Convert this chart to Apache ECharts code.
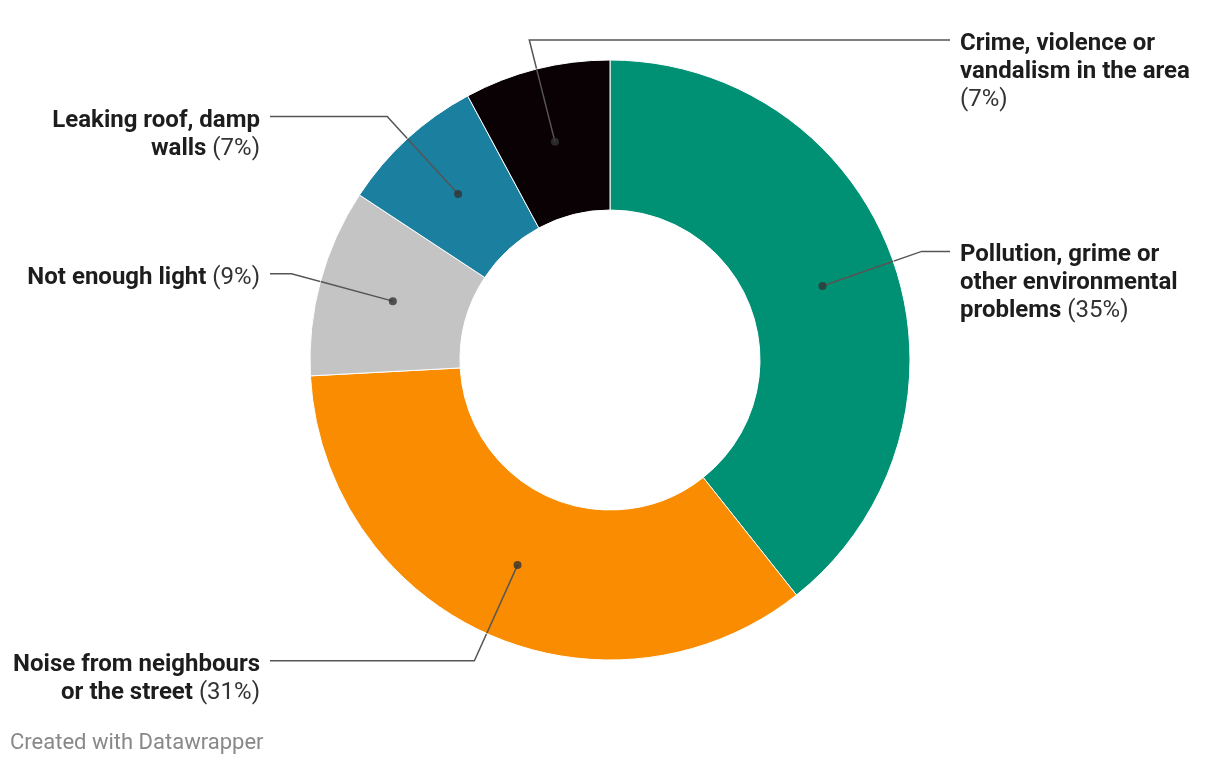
<!DOCTYPE html>
<html>
<head>
<meta charset="utf-8">
<script src="https://cdn.jsdelivr.net/npm/echarts@6/dist/echarts.min.js"></script>
<style>html,body{margin:0;padding:0;background:#fff}#c{width:1220px;height:766px}</style>
</head>
<body>
<div id="c"></div>
<script>
const categories = ['Pollution, grime or other environmental problems', 'Noise from neighbours or the street', 'Not enough light', 'Leaking roof, damp walls', 'Crime, violence or vandalism in the area'];
const values = [35, 31, 9, 7, 7];
const colors = ['#009175', '#f98c00', '#c4c4c4', '#1b7fa0', '#090103'];
const labelLines = [
  ['Pollution, grime or', 'other environmental', 'problems'],
  ['Noise from neighbours', 'or the street'],
  ['Not enough light'],
  ['Leaking roof, damp', 'walls'],
  ['Crime, violence or', 'vandalism in the area', '']
];

const CX = 610, CY = 360, R_IN = 150, R_OUT = 300, R_MID = 225, R_ELBOW = 330;
const total = values.reduce((a, b) => a + b, 0);
const mids = [];
let acc = 0;
values.forEach(v => { mids.push(acc + v / 2); acc += v; });

function fmt(i) {
  const lines = labelLines[i];
  const pct = '{n|(' + values[i] + '%)}';
  return lines.map((l, k) => {
    if (k < lines.length - 1) return '{b|' + l + '}';
    return l === '' ? pct : '{b|' + l + '} ' + pct;
  }).join('\n');
}

function polarPt(val, r) {
  const a = val / total * Math.PI * 2; // clockwise from top
  return [CX + r * Math.sin(a), CY - r * Math.cos(a)];
}
function isRight(i) {
  const deg = mids[i] / total * 360;
  return deg < 180 || deg > 340;
}

const dotSegments = mids.map(m => ({
  type: 'line',
  coordinateSystem: 'polar',
  data: [[R_MID, m], [R_OUT, m]],
  symbol: 'none',
  silent: true,
  clip: false,
  lineStyle: {color: '#555', width: 1.5},
  z: 4
}));

const chart = echarts.init(document.getElementById('c'), null, {renderer: 'canvas'});
chart.setOption({
  animation: false,
  backgroundColor: '#fff',
  graphic: [{
    type: 'text', left: 10, top: 732,
    style: {text: 'Created with Datawrapper', fontFamily: 'Roboto', fontSize: 22, fill: '#888'}
  }],
  polar: {center: [CX, CY], radius: [0, R_OUT]},
  angleAxis: {type: 'value', min: 0, max: total, startAngle: 90, clockwise: true, show: false, splitLine: {show: false}},
  radiusAxis: {type: 'value', min: 0, max: R_OUT, show: false, splitLine: {show: false}},
  series: [
    {
      type: 'pie',
      center: [CX, CY],
      radius: [R_IN, R_OUT],
      startAngle: 90,
      clockwise: true,
      silent: true,
      itemStyle: {borderColor: '#fff', borderWidth: 1},
      data: categories.map((c, i) => ({name: c, value: values[i], itemStyle: {color: colors[i]}})),
      label: {
        show: true,
        position: 'outside',
        formatter: p => fmt(p.dataIndex),
        fontFamily: 'Roboto',
        fontSize: 24,
        lineHeight: 28,
        rich: {
          b: {fontFamily: 'Roboto', fontSize: 24, fontWeight: 'bold', color: '#1d1d1d', lineHeight: 28},
          n: {fontFamily: 'Roboto', fontSize: 24, fontWeight: 'normal', color: '#333', lineHeight: 28}
        }
      },
      labelLine: {show: true, lineStyle: {color: '#555', width: 1.5}},
      labelLayout: function (params) {
        const i = params.dataIndex;
        const dot = polarPt(mids[i], R_MID);
        const elbow = polarPt(mids[i], R_ELBOW);
        const right = isRight(i);
        const endX = right ? CX + 340 : CX - 340;
        return {
          x: right ? CX + 350 : CX - 350,
          y: elbow[1] - 10,
          align: right ? 'left' : 'right',
          verticalAlign: 'top',
          labelLinePoints: [dot, elbow, [endX, elbow[1]]]
        };
      },
      z: 2
    },
    ...dotSegments,
    {
      type: 'scatter',
      coordinateSystem: 'polar',
      symbol: 'circle',
      symbolSize: 8,
      silent: true,
      itemStyle: {color: '#333'},
      data: mids.map(m => [R_MID, m]),
      z: 5
    }
  ]
});
</script>
</body>
</html>
